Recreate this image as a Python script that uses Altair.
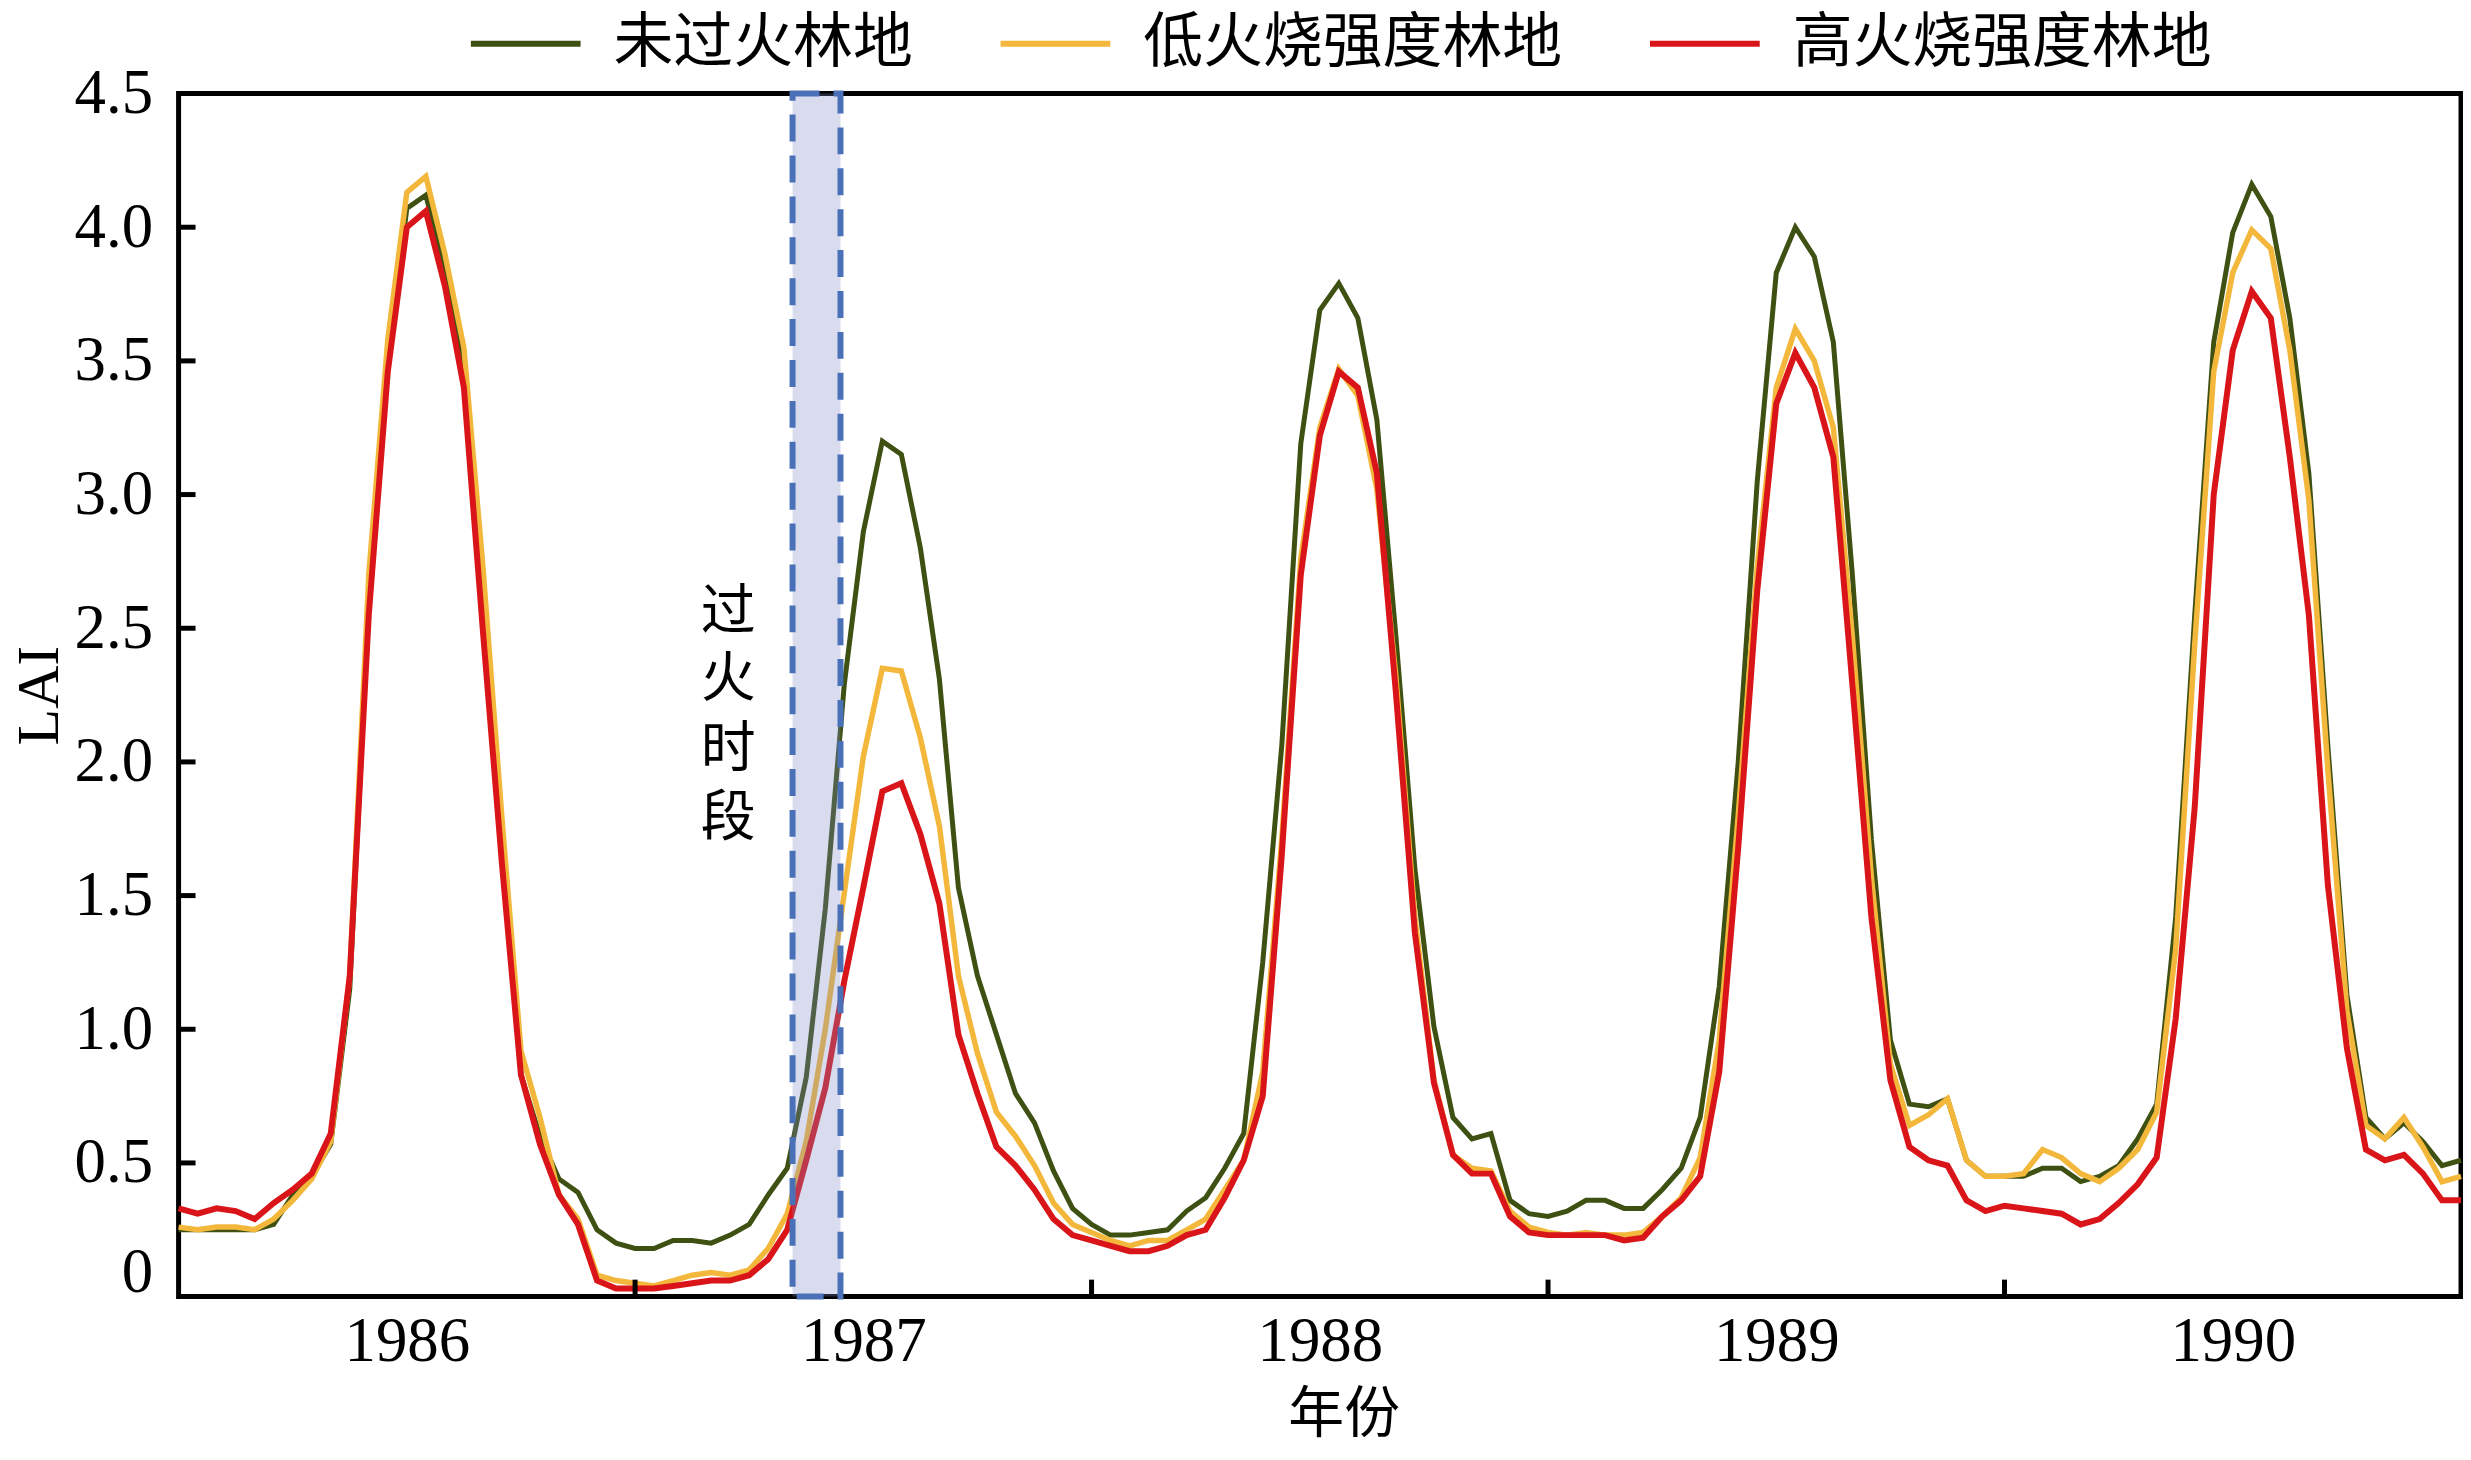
import altair as alt
import pandas as pd

# ---------------- data ----------------
series_names = ["未过火林地", "低火烧强度林地", "高火烧强度林地"]
series_colors = ["#3e5012", "#f3b83b", "#da1519"]

# half-monthly time grid, 1986.0 .. 1991.0
time_axis = [1986 + k / 24 for k in range(121)]

lai_unburned = [
    0.25, 0.25, 0.25, 0.25, 0.25, 0.27, 0.38, 0.45, 0.57, 1.15, 2.60, 3.50, 4.07, 4.12, 3.84, 3.46, 2.55, 1.68, 0.83, 0.60, 0.44, 0.39, 0.25, 0.20,
    0.18, 0.18, 0.21, 0.21, 0.20, 0.23, 0.27, 0.38, 0.48, 0.82, 1.45, 2.29, 2.86, 3.20, 3.15, 2.80, 2.31, 1.53, 1.20, 0.98, 0.76, 0.65, 0.47, 0.33,
    0.27, 0.23, 0.23, 0.24, 0.25, 0.32, 0.37, 0.48, 0.61, 1.25, 2.06, 3.19, 3.69, 3.79, 3.66, 3.28, 2.47, 1.60, 1.01, 0.67, 0.59, 0.61, 0.36, 0.31,
    0.30, 0.32, 0.36, 0.36, 0.33, 0.33, 0.40, 0.48, 0.67, 1.16, 2.00, 3.05, 3.83, 4.00, 3.89, 3.57, 2.70, 1.71, 0.96, 0.72, 0.71, 0.74, 0.51, 0.45,
    0.45, 0.45, 0.48, 0.48, 0.43, 0.45, 0.49, 0.59, 0.72, 1.42, 2.55, 3.57, 3.98, 4.16, 4.04, 3.66, 3.08, 2.06, 1.13, 0.67, 0.59, 0.65, 0.58, 0.49,
    0.51,
]
lai_low = [
    0.26, 0.25, 0.26, 0.26, 0.25, 0.29, 0.36, 0.44, 0.58, 1.20, 2.70, 3.58, 4.13, 4.19, 3.90, 3.55, 2.73, 1.79, 0.92, 0.67, 0.38, 0.29, 0.08, 0.06,
    0.05, 0.04, 0.06, 0.08, 0.09, 0.08, 0.10, 0.18, 0.31, 0.58, 1.00, 1.51, 2.02, 2.35, 2.34, 2.09, 1.76, 1.20, 0.91, 0.69, 0.60, 0.49, 0.35, 0.27,
    0.24, 0.21, 0.19, 0.21, 0.21, 0.25, 0.29, 0.40, 0.51, 0.84, 1.71, 2.76, 3.25, 3.47, 3.37, 3.02, 2.32, 1.42, 0.81, 0.53, 0.48, 0.47, 0.32, 0.26,
    0.24, 0.23, 0.24, 0.23, 0.23, 0.24, 0.30, 0.37, 0.52, 0.96, 1.80, 2.73, 3.40, 3.62, 3.50, 3.25, 2.47, 1.57, 0.87, 0.64, 0.68, 0.74, 0.51, 0.45,
    0.45, 0.46, 0.55, 0.52, 0.46, 0.43, 0.48, 0.55, 0.69, 1.30, 2.44, 3.46, 3.83, 3.99, 3.92, 3.54, 2.98, 1.97, 1.07, 0.64, 0.59, 0.67, 0.56, 0.43,
    0.45,
]
lai_high = [
    0.33, 0.31, 0.33, 0.32, 0.29, 0.35, 0.40, 0.46, 0.61, 1.20, 2.55, 3.46, 4.00, 4.06, 3.78, 3.40, 2.49, 1.62, 0.83, 0.57, 0.38, 0.27, 0.06, 0.03,
    0.03, 0.03, 0.04, 0.05, 0.06, 0.06, 0.08, 0.14, 0.25, 0.51, 0.78, 1.18, 1.53, 1.89, 1.92, 1.73, 1.47, 0.98, 0.76, 0.56, 0.49, 0.40, 0.29, 0.23,
    0.21, 0.19, 0.17, 0.17, 0.19, 0.23, 0.25, 0.37, 0.51, 0.75, 1.65, 2.70, 3.22, 3.46, 3.40, 3.08, 2.26, 1.36, 0.80, 0.53, 0.46, 0.46, 0.30, 0.24,
    0.23, 0.23, 0.23, 0.23, 0.21, 0.22, 0.30, 0.36, 0.45, 0.84, 1.68, 2.64, 3.34, 3.53, 3.40, 3.14, 2.29, 1.42, 0.81, 0.56, 0.51, 0.49, 0.36, 0.32,
    0.34, 0.33, 0.32, 0.31, 0.27, 0.29, 0.35, 0.42, 0.52, 1.04, 1.83, 3.00, 3.54, 3.76, 3.66, 3.14, 2.55, 1.54, 0.93, 0.55, 0.51, 0.53, 0.46, 0.36,
    0.36,
]

fire_start = [1987.345]
fire_end = [1987.45]
# annotation "过火时段", one character per line
fire_chars = ["过", "火", "时", "段"]
fire_chars_t = [1987.204, 1987.204, 1987.204, 1987.204]
fire_chars_v = [2.56, 2.31, 2.05, 1.79]

x_label_values = [1986.5, 1987.5, 1988.5, 1989.5, 1990.5]
x_tick_values = [1987, 1988, 1989, 1990]
y_values = [0, 0.5, 1.0, 1.5, 2.0, 2.5, 3.0, 3.5, 4.0, 4.5]
y_tick_values = [0.5, 1.0, 1.5, 2.0, 2.5, 3.0, 3.5, 4.0]

# ---------------- build ----------------
W, H = 2288, 1206
SERIF = "Liberation Serif"
CJK = "Noto Sans CJK SC"

def series_df(name, vals):
    return pd.DataFrame({"t": time_axis, "v": vals, "s": name})

df_u = series_df(series_names[0], lai_unburned)
df_l = series_df(series_names[1], lai_low)
df_h = series_df(series_names[2], lai_high)

x_axis = alt.Axis(
    values=x_label_values, labelExpr="'' + floor(datum.value)",
    ticks=False, tickSize=0, domain=False, grid=False,
    labelFont=SERIF, labelFontSize=63, labelPadding=14, labelColor="black",
    title="年份", titleFont=CJK, titleFontSize=56, titleFontWeight="normal",
    titleColor="black", titlePadding=14, titleX=1168,
)
y_axis = alt.Axis(
    values=y_values,
    labelExpr="datum.value == 0 ? '0' : format(datum.value, '.1f')",
    ticks=False, tickSize=0, domain=False, grid=False,
    labelFont=SERIF, labelFontSize=63, labelPadding=26, labelColor="black",
    labelOffset={"condition": {"test": "datum.value == 0", "value": -24}, "value": 0},
    title="LAI", titleFont=SERIF, titleFontSize=60, titleFontWeight="normal",
    titleColor="black", titlePadding=4,
)
xs = alt.Scale(domain=[1986, 1991], nice=False, zero=False)
ys = alt.Scale(domain=[0, 4.5], nice=False, zero=False)
X = alt.X("t:Q", scale=xs, axis=x_axis)
Y = alt.Y("v:Q", scale=ys, axis=y_axis)

color = alt.Color(
    "s:N",
    scale=alt.Scale(domain=series_names, range=series_colors),
    legend=alt.Legend(
        title=None, orient="none", legendX=290, legendY=-108,
        direction="horizontal", symbolType="stroke", symbolSize=12100,
        symbolStrokeWidth=6, labelFont=CJK, labelFontSize=60, labelColor="black",
        labelOffset=30, columnPadding=76, padding=0, labelLimit=0,
    ),
)

line_u = alt.Chart(df_u).mark_line(strokeWidth=5).encode(x=X, y=Y, color=color)
line_l = alt.Chart(df_l).mark_line(strokeWidth=5.5).encode(x=X, y=Y, color=color)
line_h = alt.Chart(df_h).mark_line(strokeWidth=6).encode(x=X, y=Y, color=color)

fire_df = pd.DataFrame({"t": fire_start, "t2": fire_end, "v": [4.5], "v2": [0]})
fire_rect = alt.Chart(fire_df).mark_rect(
    fill="#7d8ac6", fillOpacity=0.3, stroke="#4a70b8", strokeWidth=6,
    strokeDash=[27, 14],
).encode(x=X, x2="t2:Q", y=Y, y2="v2:Q")

label_df = pd.DataFrame({"t": fire_chars_t, "v": fire_chars_v, "c": fire_chars})
fire_text = alt.Chart(label_df).mark_text(
    font=CJK, fontSize=55, align="center", baseline="middle", color="black",
).encode(x=X, y=Y, text="c:N")

ytick_df = pd.DataFrame({"v": y_tick_values})
y_ticks = alt.Chart(ytick_df).mark_rule(color="black", strokeWidth=5).encode(
    y=Y, x=alt.value(0), x2=alt.value(17)
)
xtick_df = pd.DataFrame({"t": x_tick_values})
x_ticks = alt.Chart(xtick_df).mark_rule(color="black", strokeWidth=5).encode(
    x=X, y=alt.value(H), y2=alt.value(H - 17)
)

chart = alt.layer(
    line_u, line_l, line_h, fire_rect, fire_text, y_ticks, x_ticks
).properties(
    width=W, height=H, background="white",
    autosize=alt.AutoSizeParams(type="none"),
    padding={"left": 171, "top": 84, "right": 2, "bottom": 148},
).configure_view(
    stroke="black", strokeWidth=5
)

chart.save("out.html", embed_options={"renderer": "svg", "actions": False})
